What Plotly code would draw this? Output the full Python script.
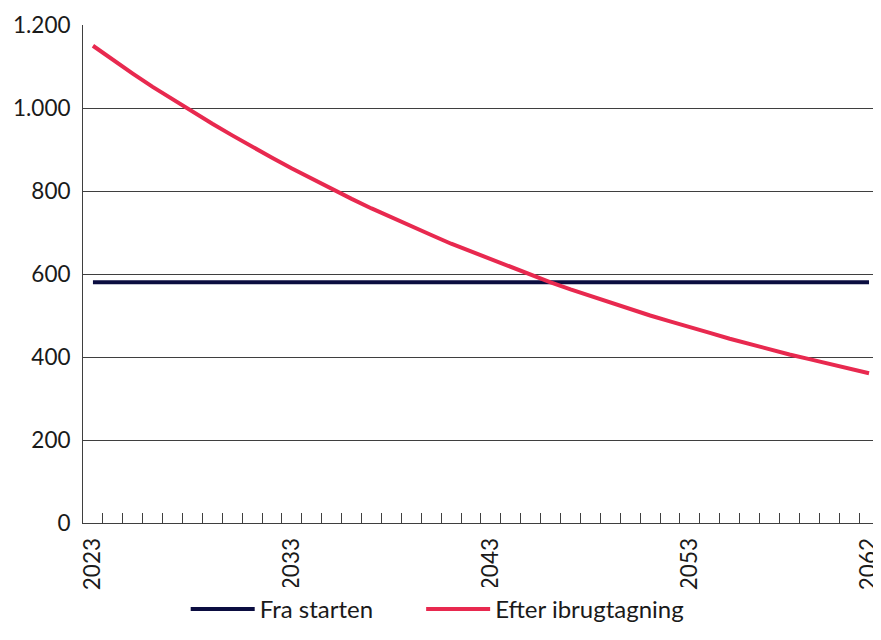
import plotly.graph_objects as go

years = list(range(2023, 2063))
fra_starten = [580] * len(years)
efter_ibrugtagning = [
    1150, 1116, 1083, 1051, 1021, 991, 962, 934, 906, 880,
    854, 829, 805, 781, 758, 736, 715, 694, 673, 654,
    635, 616, 598, 580, 563, 547, 531, 515, 500, 486,
    471, 458, 444, 431, 419, 406, 395, 383, 372, 361,
]
label_years = [2023, 2033, 2043, 2053, 2062]
y_ticks = [0, 200, 400, 600, 800, 1000, 1200]

NAVY = "#0b0d40"
RED = "#e8294f"
GRID = "#3f3f3f"
FONT = "Lato, Open Sans, sans-serif"

fig = go.Figure()
# trailing no-break spaces widen the gap between the two legend entries
fig.add_trace(go.Scatter(
    x=years, y=fra_starten, mode="lines", name="Fra starten" + "\u00a0" * 7,
    line=dict(color=NAVY, width=4),
))
fig.add_trace(go.Scatter(
    x=years, y=efter_ibrugtagning, mode="lines", name="Efter ibrugtagning",
    line=dict(color=RED, width=4),
))

# sized so the page (with the browser's 8px body margin) fits the window
fig.update_layout(
    width=865,
    height=624,
    margin=dict(l=75, r=0, t=17, b=109),
    plot_bgcolor="white",
    paper_bgcolor="white",
    separators=",.",
    font=dict(family=FONT, size=22.5, color="#1a1a1a"),
    legend=dict(
        orientation="h", x=0.13, xanchor="left",
        yref="container", y=-0.024, yanchor="bottom",
        font=dict(size=24), itemwidth=64, traceorder="normal",
    ),
    showlegend=True,
)

fig.update_xaxes(
    range=[2022.5, 2062.2],
    tickvals=label_years,
    ticktext=[str(y) for y in label_years],
    tickangle=-90,
    ticks="",
    showgrid=False,
    zeroline=False,
    showline=True,
    linecolor=GRID,
    linewidth=1,
    automargin=False,
    ticklabeloverflow="allow",
    ticklabelstandoff=5,
    minor=dict(
        tickvals=[y + 0.5 for y in years[:-1]],
        ticks="inside", ticklen=10, tickcolor=GRID, tickwidth=1, showgrid=False,
    ),
)

fig.update_yaxes(
    range=[0, 1200],
    tickvals=y_ticks,
    tickformat=",d",
    showgrid=True,
    gridcolor=GRID,
    gridwidth=1,
    zeroline=False,
    showline=True,
    linecolor=GRID,
    linewidth=1,
    ticks="",
    automargin=False,
    ticklabelstandoff=7,
)

fig.write_html("out.html")
